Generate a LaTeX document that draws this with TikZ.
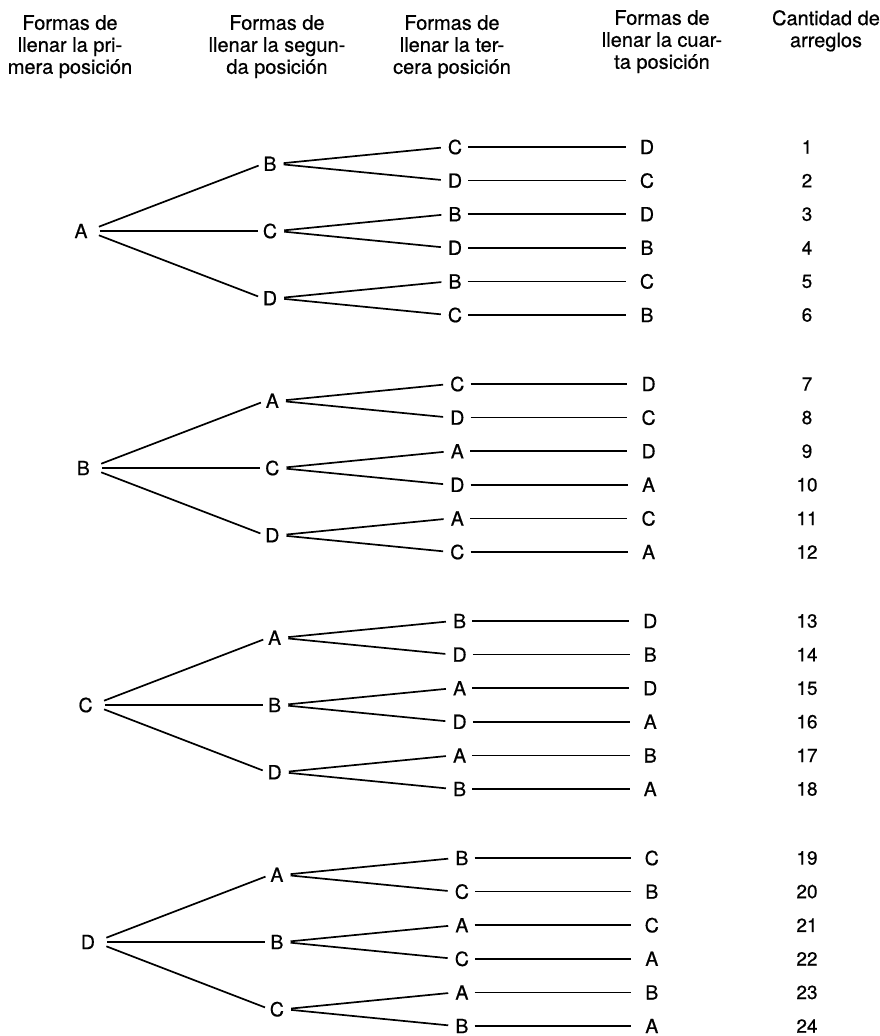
\documentclass[tikz,border=0pt]{standalone}
\usepackage{fontspec}
\setmainfont{TeX Gyre Heros}
\newfontfamily\scanfont{TeX Gyre Heros}[FakeBold=0.6]
\usetikzlibrary{positioning}

\begin{document}
\begin{tikzpicture}[x=1pt, y=-1pt,
  hdr/.style={align=center, anchor=north, inner sep=0pt, font=\scanfont\fontsize{20}{22}\selectfont},
  letra/.style={inner sep=0pt, font=\scanfont\fontsize{19.5}{22}\selectfont},
  num/.style={inner sep=0pt, font=\scanfont\fontsize{19}{22}\selectfont},
  link/.style={line width=1.7pt}
]
\useasboundingbox (0,0) rectangle (879,1036);

% ===== Column headings =====
\node[hdr] (h1) at (70,15)  {Formas de\\llenar la pri-\\mera posición};
\node[hdr] (h2) at (277,15) {Formas de\\llenar la segun-\\da posición};
\node[hdr] (h3) at (452,15) {Formas de\\llenar la ter-\\cera posición};
\node[hdr] (h4) at (662,10) {Formas de\\llenar la cuar-\\ta posición};
\node[hdr] (h5) at (826,10) {Cantidad de\\arreglos};

% ===== Tree: one block per first letter =====
\foreach \g/\ka/\kb/\kc/\kd in {0/A/B/C/D, 1/B/A/C/D, 2/C/A/B/D, 3/D/A/B/C}{
  \pgfmathsetmacro{\yg}{147+237*\g}
  \pgfmathsetmacro{\dx}{2.3*\g}
  \node[letra] (p\g) at (81+\dx, \yg+2.5*33.6) {\ka};
  \foreach \k/\xa/\xb/\xc in {0/\kb/\kc/\kd, 1/\kc/\kb/\kd, 2/\kd/\kb/\kc}{
    \node[letra] (s\g\k) at (270+\dx, \yg+2*\k*33.6+0.5*33.6) {\xa};
    \draw[link, shorten <=12pt, shorten >=5pt] (p\g.east) -- (s\g\k.west);
    \foreach \j/\ya/\yb in {0/\xb/\xc, 1/\xc/\xb}{
      \pgfmathtruncatemacro{\n}{6*\g+2*\k+\j+1}
      \pgfmathsetmacro{\yr}{\yg+(2*\k+\j)*33.6}
      \node[letra] (t\g\k\j) at (455+\dx, \yr) {\ya};
      \node[letra] (f\g\k\j) at (647+0.7*\dx, \yr) {\yb};
      \node[num] (n\g\k\j) at (807, \yr) {\n};
      \draw[link, shorten <=7pt, shorten >=7pt] (s\g\k.east) -- (t\g\k\j.west);
      \draw[link, shorten <=6pt, shorten >=14pt] (t\g\k\j.east) -- (f\g\k\j.west);
    }
  }
}

\end{tikzpicture}
\end{document}
